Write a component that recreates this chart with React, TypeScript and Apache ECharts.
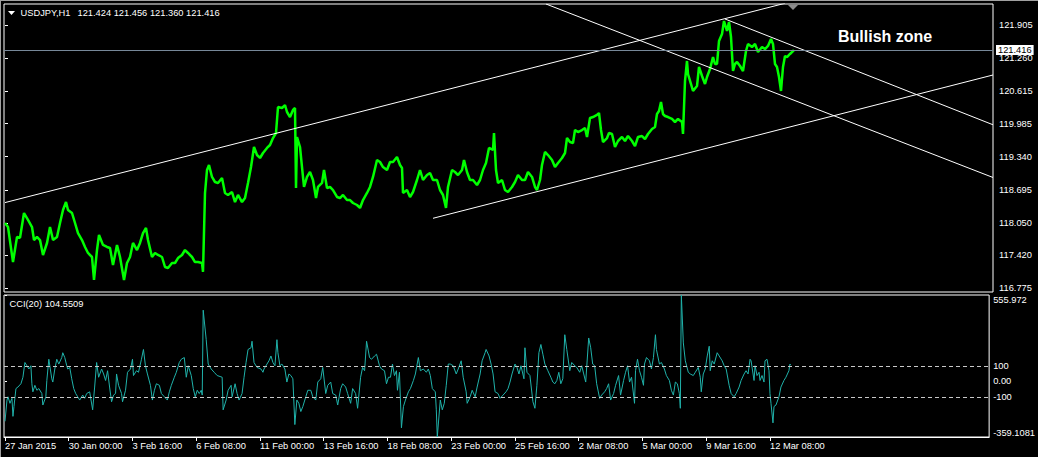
import React, { useEffect, useRef } from "react";
import * as echarts from "echarts";

// ---- data ----
const symbolTitle = "USDJPY,H1";
const ohlcText = "121.424 121.456 121.360 121.416";
const lastPrice = 121.416;
const cciTitle = "CCI(20) 104.5509";
const annotation = "Bullish zone";

const priceAxisMin = 116.703;
const priceAxisMax = 122.314;
const priceTicks = [116.775, 117.42, 118.05, 118.695, 119.34, 119.985, 120.615, 121.26, 121.905];

const cciAxisMin = -359.1081;
const cciAxisMax = 555.972;
const cciTicks = [-359.1081, -100, 0, 100, 555.972];
const cciTickLabels = ["-359.1081", "-100", "0.00", "100", "555.972"];
const cciLevels = [100, -100];

const barMin = -1;
const barMax = 988;
const dateTickBars = [0, 64, 128, 192, 256, 320, 384, 448, 512, 576, 640, 704, 768];
const dateTickLabels = [
  "27 Jan 2015", "30 Jan 00:00", "3 Feb 16:00", "6 Feb 08:00", "11 Feb 00:00",
  "13 Feb 16:00", "18 Feb 08:00", "23 Feb 00:00", "25 Feb 16:00", "2 Mar 08:00",
  "5 Mar 00:00", "9 Mar 16:00", "12 Mar 08:00",
];

// [bar index (H1), close]
const priceClose: [number, number][] = [
  [0, 118.047], [3, 117.969], [8, 117.287], [12, 117.775], [15, 117.76], [19, 118.242], [23, 118.106],
  [27, 117.969], [29, 117.716], [32, 117.775], [35, 117.716], [38, 117.424], [42, 117.658], [45, 117.969],
  [48, 117.716], [52, 117.775], [55, 118.047], [58, 118.301], [61, 118.456], [63, 118.301], [67, 118.242],
  [70, 118.047], [73, 117.852], [77, 117.716], [80, 117.58], [83, 117.463], [87, 117.385], [89, 116.937],
  [92, 117.521], [94, 117.813], [98, 117.619], [102, 117.58], [105, 117.56], [108, 117.229], [112, 117.619],
  [115, 117.385], [119, 116.937], [122, 117.268], [125, 117.385], [128, 117.658], [132, 117.521], [135, 117.658],
  [138, 117.852], [141, 117.95], [143, 117.716], [147, 117.385], [150, 117.463], [153, 117.424], [157, 117.385],
  [160, 117.19], [163, 117.171], [167, 117.268], [170, 117.268], [173, 117.365], [177, 117.424], [180, 117.521],
  [183, 117.463], [187, 117.385], [190, 117.287], [193, 117.287], [197, 117.268], [198, 117.093], [200, 118.632],
  [202, 119.08], [204, 119.177], [207, 118.944], [210, 118.846], [213, 118.827], [217, 118.924], [220, 118.632],
  [223, 118.593], [227, 118.651], [230, 118.456], [233, 118.593], [237, 118.456], [240, 118.534], [243, 118.827],
  [246, 119.138], [249, 119.528], [252, 119.372], [255, 119.314], [258, 119.411], [262, 119.509], [265, 119.567],
  [268, 119.703], [271, 119.801], [273, 120.307], [277, 120.288], [280, 120.346], [282, 120.21], [285, 120.112],
  [288, 120.249], [290, 120.288], [291, 118.729], [292, 119.723], [295, 119.528], [297, 119.138], [299, 118.749],
  [302, 118.944], [305, 119.041], [308, 118.885], [311, 118.534], [313, 118.749], [317, 118.827], [319, 119.08],
  [322, 118.729], [325, 118.749], [328, 118.69], [332, 118.554], [335, 118.534], [338, 118.593], [342, 118.495],
  [345, 118.495], [348, 118.437], [352, 118.398], [355, 118.34], [358, 118.495], [362, 118.632], [365, 118.749],
  [368, 118.944], [372, 119.275], [375, 119.236], [378, 119.138], [382, 119.08], [385, 119.236], [388, 119.236],
  [392, 119.333], [395, 119.177], [397, 119.119], [398, 118.632], [402, 118.69], [405, 118.554], [408, 118.651],
  [412, 118.885], [415, 119.08], [418, 118.885], [422, 118.982], [425, 119.021], [428, 118.885], [432, 118.885],
  [435, 118.69], [438, 118.593], [441, 118.34], [443, 118.749], [447, 119.08], [450, 119.041], [453, 118.982],
  [457, 119.08], [459, 119.275], [462, 119.041], [465, 118.885], [468, 118.885], [472, 118.788], [475, 118.885],
  [478, 119.08], [481, 119.216], [484, 119.509], [488, 119.47], [489, 119.801], [491, 119.08], [493, 118.827],
  [497, 118.885], [500, 118.69], [503, 118.651], [507, 118.749], [510, 118.846], [513, 118.982], [517, 118.885],
  [520, 118.885], [523, 119.041], [527, 118.944], [530, 118.749], [532, 118.69], [535, 118.885], [537, 119.177],
  [540, 119.431], [543, 119.372], [547, 119.275], [550, 119.138], [553, 119.216], [557, 119.314], [560, 119.411],
  [562, 119.703], [565, 119.625], [568, 119.606], [570, 119.859], [573, 119.82], [577, 119.859], [580, 119.898],
  [582, 119.723], [585, 120.093], [588, 120.112], [592, 120.152], [594, 120.19], [596, 119.859], [598, 119.625],
  [602, 119.703], [604, 119.801], [607, 119.781], [610, 119.528], [613, 119.645], [617, 119.723], [620, 119.645],
  [623, 119.742], [627, 119.645], [630, 119.547], [633, 119.723], [637, 119.742], [640, 119.684], [643, 119.781],
  [647, 119.879], [650, 119.918], [652, 120.171], [654, 120.229], [656, 120.405], [658, 120.171], [660, 120.132],
  [663, 120.112], [667, 120.074], [670, 120.015], [673, 120.074], [677, 120.015], [678, 119.781], [680, 120.814],
  [682, 121.204], [683, 120.95], [686, 120.755], [688, 120.619], [692, 120.716], [694, 121.087], [697, 120.911],
  [700, 120.755], [702, 120.892], [705, 121.048], [708, 121.281], [710, 121.145], [712, 121.145], [714, 121.593],
  [717, 121.73], [719, 121.983], [722, 121.788], [724, 121.963], [726, 121.671], [728, 121.009], [730, 121.145],
  [732, 121.184], [735, 121.106], [738, 121.009], [741, 121.398], [743, 121.535], [747, 121.476], [750, 121.535],
  [753, 121.379], [757, 121.476], [760, 121.437], [763, 121.496], [766, 121.632], [768, 121.535], [770, 121.145],
  [772, 121.087], [774, 120.892], [776, 120.619], [778, 121.087], [780, 121.301], [782, 121.281], [785, 121.34],
  [788, 121.398], [789, 121.416],
];

// [bar index (H1), CCI(20)]
const cciValues: [number, number][] = [
  [0, -258], [2, -121], [3, -100], [5, -142], [7, -110], [8, -226], [9, -163], [11, -47], [13, -37], [16, -16],
  [18, 26], [20, 121], [22, 100], [24, 79], [26, 100], [27, -16], [28, -68], [30, -26], [32, -58], [34, -47],
  [37, -79], [38, -153], [41, -100], [42, 5], [44, 142], [47, 16], [48, -5], [50, 79], [52, 142], [54, 111],
  [57, 153], [58, 184], [60, 153], [62, 100], [63, 79], [65, 89], [67, 16], [69, -47], [71, -79], [73, -100],
  [75, -121], [78, -89], [80, -110], [82, -79], [85, -68], [88, -184], [90, -37], [92, 121], [94, 26], [97, 79],
  [99, 47], [101, 5], [103, 68], [105, -37], [107, -132], [109, -89], [111, -79], [112, 47], [114, -26], [117, -79],
  [118, -132], [121, -58], [123, 58], [126, 79], [128, 142], [129, 37], [132, 68], [134, 58], [137, 142], [139, 205],
  [141, 100], [143, 47], [146, -26], [148, -121], [150, -58], [152, -16], [155, -26], [157, -79], [160, -100], [163, -121],
  [165, -68], [167, -26], [170, 26], [172, 58], [175, 121], [177, 142], [180, 153], [182, 26], [184, 100], [187, 37],
  [189, -47], [191, -100], [193, -58], [195, -79], [197, -58], [198, -89], [199, 458], [202, 268], [204, 111], [207, 79],
  [210, 58], [213, 37], [218, 26], [219, -184], [222, -121], [224, -58], [227, -26], [228, -100], [231, -16], [233, -79],
  [235, -121], [238, -79], [240, 26], [242, 121], [244, 205], [247, 216], [248, 258], [250, 121], [253, 89], [257, 79],
  [259, 58], [260, 79], [263, 111], [265, 132], [267, 163], [269, 121], [271, 100], [273, 268], [274, 184], [276, 100],
  [278, 111], [281, 79], [283, -5], [285, 47], [287, 37], [289, 16], [291, -279], [293, -121], [295, -142], [297, -195],
  [299, -163], [302, -100], [304, -58], [307, -58], [309, -100], [312, -121], [314, -5], [317, 16], [319, 89], [322, -79],
  [324, -26], [327, -5], [329, -79], [332, -89], [334, -153], [337, -47], [339, -16], [342, -37], [344, -79], [347, -142],
  [349, -47], [352, -79], [354, -174], [357, 26], [359, 89], [361, 68], [363, 258], [366, 153], [368, 142], [371, 163],
  [373, 174], [376, 100], [378, 79], [381, 68], [383, -16], [385, 26], [387, 26], [389, 111], [391, 37], [393, 68],
  [394, -58], [396, 58], [398, -300], [400, -163], [402, -121], [405, -68], [407, -47], [410, 5], [412, 47], [415, 153],
  [417, 68], [420, 79], [423, 58], [425, 79], [427, 37], [429, -47], [432, -68], [433, -184], [434, -359.1], [437, -121],
  [439, -184], [441, -142], [443, -26], [445, 111], [447, 111], [450, 100], [453, 47], [455, 79], [458, 132], [460, 26],
  [463, -68], [464, -142], [467, -100], [469, -58], [472, -100], [474, -37], [477, 47], [479, 132], [482, 184], [483, 205],
  [486, 163], [488, 111], [490, 47], [492, -68], [495, -79], [497, -110], [500, -89], [503, -68], [505, -47], [507, -5],
  [509, 47], [512, 111], [514, 89], [516, 47], [518, 100], [521, 16], [522, 216], [524, 58], [527, 37], [530, -132],
  [532, -174], [534, -26], [536, 184], [538, 237], [540, 174], [542, 111], [545, 68], [548, 26], [550, -5], [552, -16],
  [554, 5], [556, 58], [558, -16], [560, 16], [562, 300], [564, 205], [567, 68], [569, 121], [572, 100], [574, 89],
  [577, 58], [579, 100], [581, 47], [583, -5], [586, 279], [588, 216], [590, 111], [592, 100], [594, -16], [597, -110],
  [599, -89], [602, -68], [604, -47], [606, -16], [608, -121], [611, -79], [613, -26], [616, 37], [618, -89], [621, 5],
  [623, 58], [625, 100], [627, -5], [629, 26], [632, -142], [633, 68], [635, 142], [637, 68], [639, 26], [641, -26],
  [642, 111], [644, 153], [647, 132], [649, 79], [651, 153], [653, 300], [654, 205], [657, 111], [659, 121], [662, 79],
  [664, 37], [667, 5], [669, -58], [671, -89], [673, -5], [675, -16], [677, -79], [678, -174], [679, 555.972], [681, 247],
  [683, 132], [686, 58], [688, 47], [691, 37], [693, 58], [696, 89], [698, 26], [699, -68], [701, 47], [703, 79],
  [705, 163], [707, 226], [708, 68], [710, 132], [712, 111], [715, 184], [717, 163], [720, 132], [722, 100], [724, 79],
  [727, -26], [729, -79], [732, -100], [734, -79], [737, -37], [739, 5], [742, 47], [744, 68], [746, 47], [748, 142],
  [749, 132], [752, 5], [753, 100], [755, 37], [757, 58], [758, 5], [760, 37], [762, -5], [763, 132], [765, 142],
  [767, 68], [768, -79], [769, -142], [771, -268], [772, -163], [774, -153], [777, -100], [779, -37], [782, 5], [784, 26],
  [787, 68], [788, 111], [789, 104.5509],
];

// trend lines: [bar index, price] end points
const trendUpperChannel: [number, number][] = [[0, 118.445], [780, 122.328]];
const trendLowerChannel: [number, number][] = [[428, 118.139], [988, 120.931]];
const trendDescendingA: [number, number][] = [[541, 122.314], [988, 118.934]];
const trendDescendingB: [number, number][] = [[720, 122.022], [988, 119.961]];

const FONT = "'Liberation Sans', Arial, sans-serif";
const SMALL = 9.3;

function labelFor(values: number[], labels: string[], v: number): string {
  for (let i = 0; i < values.length; i++) {
    if (Math.abs(values[i] - v) < 1e-6) return labels[i];
  }
  return "";
}

export default function App() {
  const ref = useRef<HTMLDivElement>(null);

  useEffect(() => {
    document.body.style.margin = "0";
    document.body.style.background = "#000";
    if (!ref.current) return;
    const chart = echarts.init(ref.current, undefined, { renderer: "svg" });

    const trend = (data: [number, number][]) => ({
      type: "line",
      xAxisIndex: 0,
      yAxisIndex: 0,
      data,
      symbol: "none",
      silent: true,
      z: 4,
      lineStyle: { color: "#ffffff", width: 1 },
    });

    chart.setOption({
      animation: false,
      backgroundColor: "#000",
      textStyle: { fontFamily: FONT },
      grid: [
        { left: 4, top: 4, width: 989, height: 288, show: true, borderColor: "#ffffff", borderWidth: 1, backgroundColor: "#000" },
        { left: 4, top: 295, width: 989, height: 142, show: true, borderColor: "#ffffff", borderWidth: 1, backgroundColor: "#000" },
      ],
      xAxis: [
        { gridIndex: 0, type: "value", min: barMin, max: barMax, show: false },
        {
          gridIndex: 1,
          type: "value",
          min: barMin,
          max: barMax,
          axisLine: { show: true, onZero: false, lineStyle: { color: "#ffffff" } },
          axisTick: { show: true, customValues: dateTickBars, length: 4, lineStyle: { color: "#ffffff" } },
          axisLabel: {
            customValues: dateTickBars,
            formatter: (v: number) => labelFor(dateTickBars, dateTickLabels, v),
            color: "#ffffff",
            fontSize: SMALL,
            fontFamily: FONT,
            align: "left",
            margin: 4,
          },
          splitLine: { show: false },
        },
      ],
      yAxis: [
        {
          gridIndex: 0,
          type: "value",
          position: "right",
          min: priceAxisMin,
          max: priceAxisMax,
          axisLine: { show: false },
          axisTick: { show: true, customValues: priceTicks, length: 3, lineStyle: { color: "#ffffff" } },
          axisLabel: {
            customValues: priceTicks,
            formatter: (v: number) => v.toFixed(3),
            color: "#ffffff",
            fontSize: SMALL,
            fontFamily: FONT,
            margin: 6,
          },
          splitLine: { show: false },
        },
        {
          gridIndex: 1,
          type: "value",
          position: "right",
          min: cciAxisMin,
          max: cciAxisMax,
          axisLine: { show: false },
          axisTick: { show: true, customValues: cciTicks, length: 2, lineStyle: { color: "#ffffff" } },
          axisLabel: {
            customValues: cciTicks,
            formatter: (v: number) => labelFor(cciTicks, cciTickLabels, v),
            color: "#ffffff",
            fontSize: SMALL,
            fontFamily: FONT,
            margin: 4,
            verticalAlignMinLabel: "bottom",
            verticalAlignMaxLabel: "top",
          },
          splitLine: { show: false },
        },
      ],
      series: [
        {
          type: "line",
          xAxisIndex: 0,
          yAxisIndex: 0,
          data: [],
          z: 1,
          markLine: {
            silent: true,
            symbol: ["none", "none"],
            lineStyle: { color: "#778899", type: "solid", width: 1 },
            label: {
              show: true,
              position: "end",
              formatter: lastPrice.toFixed(3),
              color: "#000000",
              backgroundColor: "#ffffff",
              fontSize: SMALL,
              fontFamily: FONT,
              padding: [1, 2, 0, 2],
              distance: 3,
            },
            data: [{ yAxis: lastPrice }],
          },
        },
        {
          type: "line",
          xAxisIndex: 0,
          yAxisIndex: 0,
          data: priceClose,
          symbol: "none",
          silent: true,
          z: 3,
          lineStyle: { color: "#00ff00", width: 2.5 },
        },
        trend(trendUpperChannel),
        trend(trendLowerChannel),
        trend(trendDescendingA),
        trend(trendDescendingB),
        {
          type: "line",
          xAxisIndex: 1,
          yAxisIndex: 1,
          data: cciValues,
          symbol: "none",
          silent: true,
          z: 3,
          lineStyle: { color: "#20b2aa", width: 1 },
          markLine: {
            silent: true,
            symbol: ["none", "none"],
            lineStyle: { color: "#c8c8c8", type: [4, 3], width: 1 },
            label: { show: false },
            data: cciLevels.map((v) => ({ yAxis: v })),
          },
        },
      ],
      graphic: [
        { type: "line", shape: { x1: 0.5, y1: 0, x2: 0.5, y2: 457 }, style: { stroke: "#a0a0a0", lineWidth: 1 }, silent: true },
        { type: "line", shape: { x1: 0, y1: 0.5, x2: 1038, y2: 0.5 }, style: { stroke: "#a0a0a0", lineWidth: 1 }, silent: true },
        { type: "polygon", shape: { points: [[8, 11], [15, 11], [11.5, 15]] }, style: { fill: "#ffffff" }, silent: true },
        {
          type: "text", x: 20.5, y: 12.5, silent: true,
          style: { text: symbolTitle, fill: "#ffffff", font: `${SMALL}px ${FONT}`, verticalAlign: "middle" },
        },
        {
          type: "text", x: 77.5, y: 12.5, silent: true,
          style: { text: ohlcText, fill: "#ffffff", font: `${SMALL}px ${FONT}`, verticalAlign: "middle" },
        },
        {
          type: "text", x: 9.5, y: 303.5, silent: true,
          style: { text: cciTitle, fill: "#ffffff", font: `${SMALL}px ${FONT}`, verticalAlign: "middle" },
        },
        {
          type: "text", x: 838, y: 36, silent: true, z: 10,
          style: { text: annotation, fill: "#ffffff", font: `bold 16px ${FONT}`, verticalAlign: "middle" },
        },
        { type: "polygon", shape: { points: [[788, 5], [798, 5], [793, 10]] }, style: { fill: "#8c8c8c" }, silent: true },
      ],
    });

    return () => chart.dispose();
  }, []);

  return <div ref={ref} style={{ width: 1038, height: 457, background: "#000" }} />;
}
